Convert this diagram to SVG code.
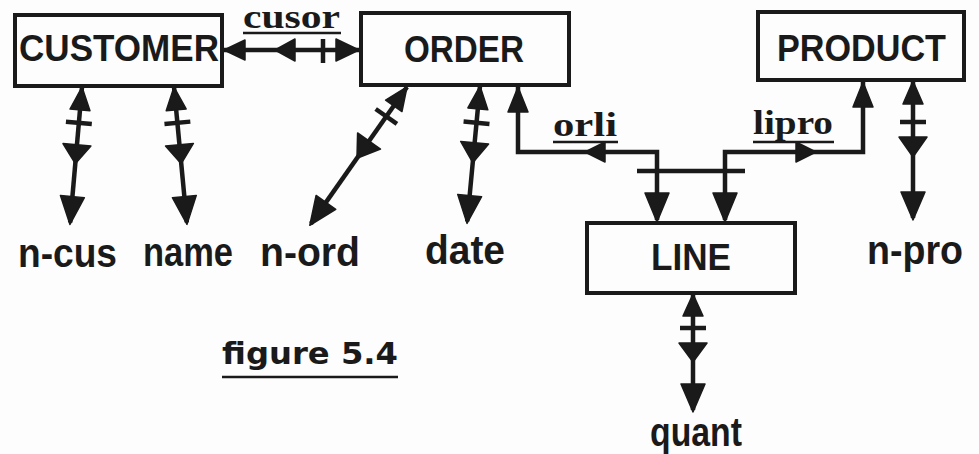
<svg xmlns="http://www.w3.org/2000/svg" width="979" height="454" viewBox="0 0 979 454">
<style>
.box{fill:none;stroke:#1a1a1a;stroke-width:4}
.ln{fill:none;stroke:#1a1a1a;stroke-width:4.5;stroke-linejoin:miter}
.ul{stroke:#1a1a1a;stroke-width:2.5}
.ah{fill:#1a1a1a;stroke:#1a1a1a;stroke-width:1.5;stroke-linejoin:round}
.ent{font-family:"Liberation Sans",Arial,sans-serif;font-weight:bold;font-size:36px;fill:#1a1a1a}
.att{font-family:"Liberation Sans",Arial,sans-serif;font-weight:bold;font-size:40px;fill:#1a1a1a}
.rel{font-family:"Liberation Serif","Times New Roman",serif;font-weight:bold;font-size:33px;fill:#1a1a1a}
.cap{font-family:"DejaVu Sans",sans-serif;font-weight:bold;font-size:30px;fill:#1a1a1a}
</style>
<rect width="979" height="454" fill="#fdfdfd"/>

<g id="connectors">
  <!-- cusor -->
  <g id="c-cusor">
    <line class="ln" x1="222" y1="50" x2="361" y2="50"/>
    <polygon class="ah" points="224,50 245,40 245,60"/>
    <polygon class="ah" points="275,50 295,39 295,61"/>
    <line class="ln" x1="323" y1="39" x2="323" y2="63"/>
    <polygon class="ah" points="359,50 336,39 336,61"/>
  </g>
  <!-- n-cus -->
  <g id="c-ncus" transform="translate(82,87) rotate(5)">
    <line class="ln" x1="0" y1="0" x2="0" y2="136"/>
    <polygon class="ah" points="0,0 -10,23 10,23"/>
    <line class="ln" x1="-13" y1="36" x2="13" y2="36"/>
    <polygon class="ah" points="-14,58 14,58 0,77"/>
    <polygon class="ah" points="-12,110 12,110 0,138"/>
  </g>
  <!-- name -->
  <g id="c-name" transform="translate(174,87) rotate(-5.4)">
    <line class="ln" x1="0" y1="0" x2="0" y2="136"/>
    <polygon class="ah" points="0,0 -10,23 10,23"/>
    <line class="ln" x1="-13" y1="36" x2="13" y2="36"/>
    <polygon class="ah" points="-14,58 14,58 0,77"/>
    <polygon class="ah" points="-12,110 12,110 0,138"/>
  </g>
  <!-- n-ord -->
  <g id="c-nord" transform="translate(407,87) rotate(35.1)">
    <line class="ln" x1="0" y1="0" x2="0" y2="167"/>
    <polygon class="ah" points="0,0 -10,23 10,23"/>
    <line class="ln" x1="-13" y1="36" x2="13" y2="36"/>
    <polygon class="ah" points="-14,66 14,66 0,87"/>
    <polygon class="ah" points="-12,141 12,141 0,169"/>
  </g>
  <!-- date -->
  <g id="c-date" transform="translate(480,86) rotate(5.4)">
    <line class="ln" x1="0" y1="0" x2="0" y2="136"/>
    <polygon class="ah" points="0,0 -10,23 10,23"/>
    <line class="ln" x1="-13" y1="37" x2="13" y2="37"/>
    <polygon class="ah" points="-14,57 14,57 0,77"/>
    <polygon class="ah" points="-12,110 12,110 0,138"/>
  </g>
  <!-- orli -->
  <g id="c-orli">
    <polyline class="ln" points="518,86 518,152 657,152 657,220"/>
    <polygon class="ah" points="518,87 508,112 528,112"/>
    <polygon class="ah" points="585,152 605,142 605,162"/>
    <polygon class="ah" points="657,222 645,193 669,193"/>
  </g>
  <!-- lipro -->
  <g id="c-lipro">
    <polyline class="ln" points="863,81 863,152 725,152 725,220"/>
    <polygon class="ah" points="863,82 853,107 873,107"/>
    <polygon class="ah" points="816,152 796,142 796,162"/>
    <polygon class="ah" points="725,222 713,193 737,193"/>
  </g>
  <line class="ln" x1="637" y1="171" x2="745" y2="171"/>
  <!-- n-pro -->
  <g id="c-npro" transform="translate(913,80)">
    <line class="ln" x1="0" y1="0" x2="0" y2="138"/>
    <polygon class="ah" points="0,1 -10,24 10,24"/>
    <line class="ln" x1="-13" y1="42" x2="13" y2="42"/>
    <polygon class="ah" points="-14,57 14,57 0,77"/>
    <polygon class="ah" points="-12,112 12,112 0,140"/>
  </g>
  <!-- quant -->
  <g id="c-quant" transform="translate(693,293)">
    <line class="ln" x1="0" y1="0" x2="0" y2="117"/>
    <polygon class="ah" points="0,1 -10,23 10,23"/>
    <line class="ln" x1="-13" y1="35" x2="13" y2="35"/>
    <polygon class="ah" points="-14,50 14,50 0,69"/>
    <polygon class="ah" points="-12,91 12,91 0,119"/>
  </g>
</g>

<g id="customer">
  <rect class="box" x="15" y="15" width="207" height="71"/>
  <text class="ent" x="19" y="61" textLength="200" lengthAdjust="spacingAndGlyphs">CUSTOMER</text>
</g>
<g id="order">
  <rect class="box" x="361" y="13" width="208" height="72"/>
  <text class="ent" x="404" y="62" textLength="120" lengthAdjust="spacingAndGlyphs">ORDER</text>
</g>
<g id="product">
  <rect class="box" x="758" y="12" width="206" height="68"/>
  <text class="ent" x="777" y="61" textLength="169" lengthAdjust="spacingAndGlyphs">PRODUCT</text>
</g>
<g id="line">
  <rect class="box" x="587" y="223" width="208" height="70"/>
  <text class="ent" x="651" y="270" textLength="80" lengthAdjust="spacingAndGlyphs">LINE</text>
</g>

<g id="rel-labels">
  <text class="rel" x="243" y="28" font-size="28" textLength="97" lengthAdjust="spacingAndGlyphs">cusor</text>
  <line class="ul" x1="243" y1="33" x2="341" y2="33"/>
  <text class="rel" x="553" y="136" textLength="64" lengthAdjust="spacingAndGlyphs">orli</text>
  <line class="ul" x1="553" y1="142" x2="618" y2="142"/>
  <text class="rel" x="753" y="134" textLength="80" lengthAdjust="spacingAndGlyphs">lipro</text>
  <line class="ul" x1="753" y1="142" x2="834" y2="142"/>
</g>

<g id="n-cus"><text class="att" x="18" y="267" textLength="99" lengthAdjust="spacingAndGlyphs">n-cus</text></g>
<g id="name"><text class="att" x="143" y="266" textLength="90" lengthAdjust="spacingAndGlyphs">name</text></g>
<g id="n-ord"><text class="att" x="260" y="266" textLength="100" lengthAdjust="spacingAndGlyphs">n-ord</text></g>
<g id="date"><text class="att" x="425" y="264" textLength="80" lengthAdjust="spacingAndGlyphs">date</text></g>
<g id="n-pro"><text class="att" x="867" y="264" textLength="96" lengthAdjust="spacingAndGlyphs">n-pro</text></g>
<g id="quant"><text class="att" x="650" y="446" textLength="92" lengthAdjust="spacingAndGlyphs">quant</text></g>

<g id="caption">
  <text class="cap" x="222" y="364" textLength="176" lengthAdjust="spacingAndGlyphs">figure 5.4</text>
  <line class="ul" x1="222" y1="377" x2="398" y2="377"/>
</g>
</svg>
